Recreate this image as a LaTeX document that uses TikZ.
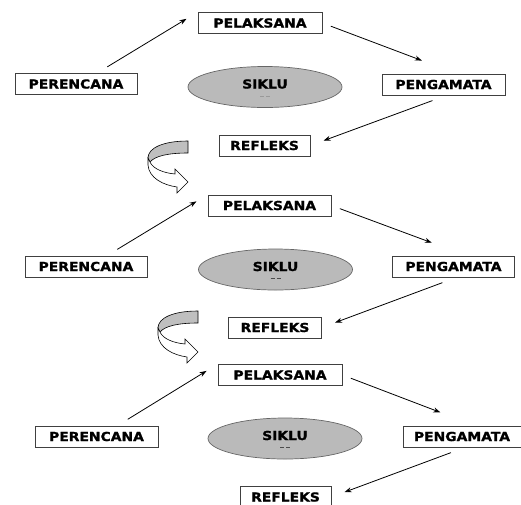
\documentclass[tikz,border=0pt]{standalone}
\usepackage{fontspec}
\setmainfont{DejaVu Sans}[FakeStretch=1.12, BoldFeatures={FakeBold=1.2}]
\usetikzlibrary{arrows.meta,shapes.geometric}
\tikzset{
  kotak/.style={draw=black!75, line width=0.8pt, fill=white, inner sep=0pt,
    minimum height=21pt, font=\bfseries\fontsize{12.4}{14}\selectfont},
  siklus/.style={ellipse, draw=black!60, fill=black!27, line width=0.7pt,
    minimum width=154pt, minimum height=41pt, inner sep=0pt},
  teks/.style={font=\bfseries\fontsize{12.4}{14}\selectfont, inner sep=0pt},
  panah/.style={-{Stealth[length=7pt,width=5pt]}, line width=0.8pt},
  putus/.style={line width=0.9pt, color=black!70},
}
% panah melengkung antar siklus
\def\lengkung(#1){%
  \begin{scope}[shift={(#1)}]
    \draw[line width=0.6pt, fill=black!25] (0,0) .. controls (-25,0) and (-40,7) .. (-40,17)
      -- (-38,21) .. controls (-33,15) and (-20,12) .. (0,12) -- cycle;
    \draw[line width=0.6pt, fill=white] (-40,17) -- (-40,24) .. controls (-39,37) and (-25,44) .. (-11,46)
      -- (-11,52) -- (0,41) -- (-13,28) -- (-13,33) .. controls (-24,32) and (-35,28) .. (-38,21) -- cycle;
  \end{scope}}

\begin{document}
\begin{tikzpicture}[x=1pt,y=-1pt]
  \useasboundingbox (0,0) rectangle (521,504);

  %%%%% SIKLUS 1 %%%%%
  \node[kotak, minimum width=124pt] (pel1) at (260,23) {PELAKSANA};
  \node[kotak, minimum width=122pt] (per1) at (76,84) {PERENCANA};
  \node[kotak, minimum width=123pt] (peng1) at (443.5,84.5) {PENGAMATA};
  \node[kotak, minimum width=91pt] (ref1) at (264.5,145.5) {REFLEKS};
  \node[siklus] (sik1) at (265,87) {};
  \node[teks] (tsik1) at ([yshift=3pt]sik1.center) {SIKLU};
  \draw[putus, black!40] ([xshift=-5pt,yshift=-9pt]sik1.center) -- ++(4,0);
  \draw[putus, black!40] ([xshift=1pt,yshift=-9pt]sik1.center) -- ++(4,0);

  \draw[panah, shorten <=12pt, shorten >=13pt] ([xshift=21pt]per1.north) -- (pel1.north west);
  \draw[panah, shorten <=9pt, shorten >=37pt] (pel1.east) -- ([xshift=13pt]peng1.north);
  \draw[panah, shorten <=15pt, shorten >=14pt] ([xshift=3pt]peng1.south) -- (ref1.east);

  \lengkung(188,141)

  %%%%% SIKLUS 2 %%%%%
  \node[kotak, minimum width=123pt] (pel2) at (269.5,205.5) {PELAKSANA};
  \node[kotak, minimum width=122pt] (per2) at (86,266.5) {PERENCANA};
  \node[kotak, minimum width=122pt] (peng2) at (453.5,266.5) {PENGAMATA};
  \node[kotak, minimum width=93pt] (ref2) at (275,327.5) {REFLEKS};
  \node[siklus] (sik2) at (275.5,269.5) {};
  \node[teks] (tsik2) at ([yshift=3pt]sik2.center) {SIKLU};
  \draw[putus] ([xshift=-5pt,yshift=-9pt]sik2.center) -- ++(4,0);
  \draw[putus] ([xshift=1pt,yshift=-9pt]sik2.center) -- ++(4,0);

  \draw[panah, shorten <=12pt, shorten >=13pt] ([xshift=21pt]per2.north) -- (pel2.north west);
  \draw[panah, shorten <=9pt, shorten >=37pt] (pel2.east) -- ([xshift=13pt]peng2.north);
  \draw[panah, shorten <=15pt, shorten >=14pt] ([xshift=3pt]peng2.south) -- (ref2.east);

  \lengkung(198,311)

  %%%%% SIKLUS 3 %%%%%
  \node[kotak, minimum width=124pt] (pel3) at (280,375) {PELAKSANA};
  \node[kotak, minimum width=123pt] (per3) at (96.5,436.5) {PERENCANA};
  \node[kotak, minimum width=118pt] (peng3) at (462,436.5) {PENGAMATA};
  \node[kotak, minimum width=91pt] (ref3) at (285.5,497) {REFLEKS};
  \node[siklus] (sik3) at (285,438.5) {};
  \node[teks] (tsik3) at ([yshift=3pt]sik3.center) {SIKLU};
  \draw[putus] ([xshift=-5pt,yshift=-9pt]sik3.center) -- ++(4,0);
  \draw[putus] ([xshift=1pt,yshift=-9pt]sik3.center) -- ++(4,0);

  \draw[panah, shorten <=12pt, shorten >=13pt] ([xshift=21pt]per3.north) -- (pel3.north west);
  \draw[panah, shorten <=9pt, shorten >=37pt] (pel3.east) -- ([xshift=13pt]peng3.north);
  \draw[panah, shorten <=15pt, shorten >=14pt] ([xshift=3pt]peng3.south) -- (ref3.east);
\end{tikzpicture}
\end{document}
